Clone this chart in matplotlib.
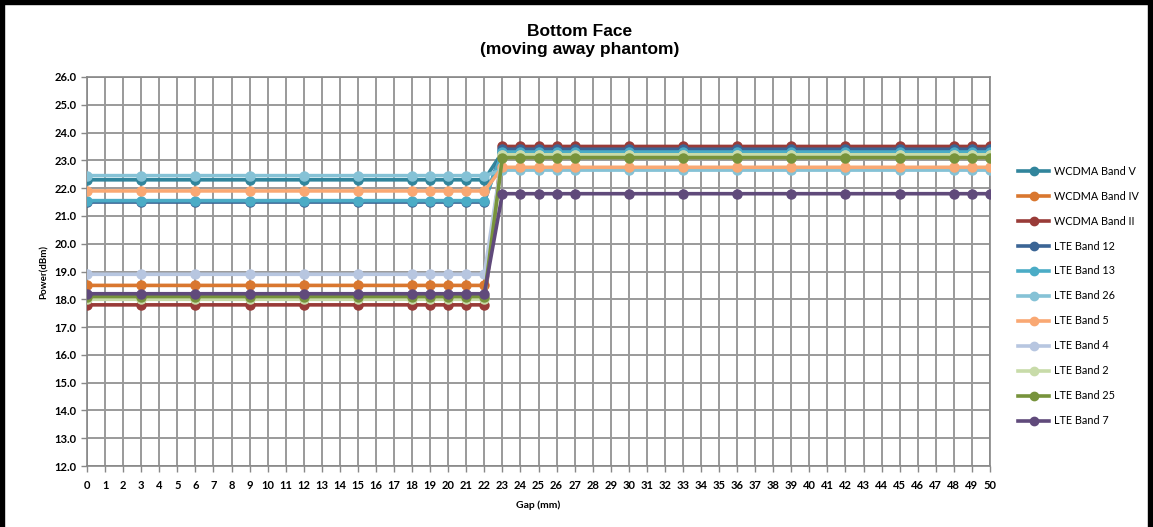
import matplotlib
matplotlib.use("Agg")
import matplotlib.pyplot as plt
from matplotlib.lines import Line2D
from matplotlib.patches import Rectangle

# gap positions that were measured (mm)
gaps = [0, 3, 6, 9, 12, 15, 18, 19, 20, 21, 22, 23, 24, 25, 26, 27, 30, 33, 36, 39, 42, 45, 48, 49, 50]
n_near = 11  # points 0..22 mm (power reduced)
n_far = len(gaps) - n_near

series_names = ["WCDMA Band V", "WCDMA Band IV", "WCDMA Band II", "LTE Band 12", "LTE Band 13",
                "LTE Band 26", "LTE Band 5", "LTE Band 4", "LTE Band 2", "LTE Band 25", "LTE Band 7"]
near_power = [22.3, 18.5, 17.8, 21.5, 21.55, 22.45, 21.9, 18.9, 18.0, 18.1, 18.2]
far_power = [23.3, 23.2, 23.5, 23.4, 23.3, 22.65, 22.75, 23.2, 23.2, 23.1, 21.8]
colors = ["#31859C", "#D9772F", "#993B38", "#3B6595", "#4BACC6", "#85C2D6",
          "#F9A873", "#B7C6E0", "#C8DBA9", "#77933C", "#604A7B"]

y_ticks = [12 + i for i in range(15)]

plt.rcParams['font.family'] = ['Lato', 'DejaVu Sans']

fig = plt.figure(figsize=(11.53, 5.27), dpi=100)
ax = fig.add_axes([0.0755, 0.1157, 0.7831, 0.7382])

for name, p0, p1, c in zip(series_names, near_power, far_power, colors):
    vals = [p0] * n_near + [p1] * n_far
    ax.plot(gaps, vals, color=c, lw=2.6, marker="o", ms=6.5, label=name, zorder=3)

ax.set_xlim(0, 50)
ax.set_ylim(12, 26)
ax.set_xticks(range(0, 51))
ax.set_yticks(y_ticks)
ax.set_yticklabels([f"{v:.1f}" for v in y_ticks])
ax.grid(True, color="#9a9a9a", lw=1.4, zorder=0)
ax.tick_params(axis="both", labelsize=8, length=4, color="#888888", width=1)
ax.tick_params(axis="x", pad=6)
for lbl in ax.get_xticklabels() + ax.get_yticklabels():
    lbl.set_fontweight("bold")
for s in ax.spines.values():
    s.set_color("#888888")
    s.set_linewidth(1.2)

ax.set_xlabel("Gap (mm)", fontsize=7.5, fontweight="bold", labelpad=7)
ax.set_ylabel("Power(dBm)", fontsize=7, fontweight="bold", labelpad=4)

fig.text(0.503, 0.923, "Bottom Face\n(moving away phantom)", ha="center", va="center",
         fontsize=12.5, fontweight="bold", family=["Liberation Sans Narrow", "Liberation Sans"],
         linespacing=1.3)

handles = [Line2D([0], [0], color=c, lw=2.6, marker="o", ms=6) for c in colors]
fig.legend(handles, series_names, loc="upper left", bbox_to_anchor=(0.879, 0.694),
           frameon=False, fontsize=7.8, handlelength=2.9, labelspacing=1.29,
           handletextpad=0.4, borderaxespad=0)

# black frame around the chart (top, left, right)
W, H = 1153, 527
fig.add_artist(Rectangle((0, 1 - 4 / H), 1, 4 / H, color="black", transform=fig.transFigure))
fig.add_artist(Rectangle((0, 0), 4 / W, 1, color="black", transform=fig.transFigure))
fig.add_artist(Rectangle((1 - 5 / W, 0), 5 / W, 1, color="black", transform=fig.transFigure))

fig.savefig("out.png", dpi=100)
